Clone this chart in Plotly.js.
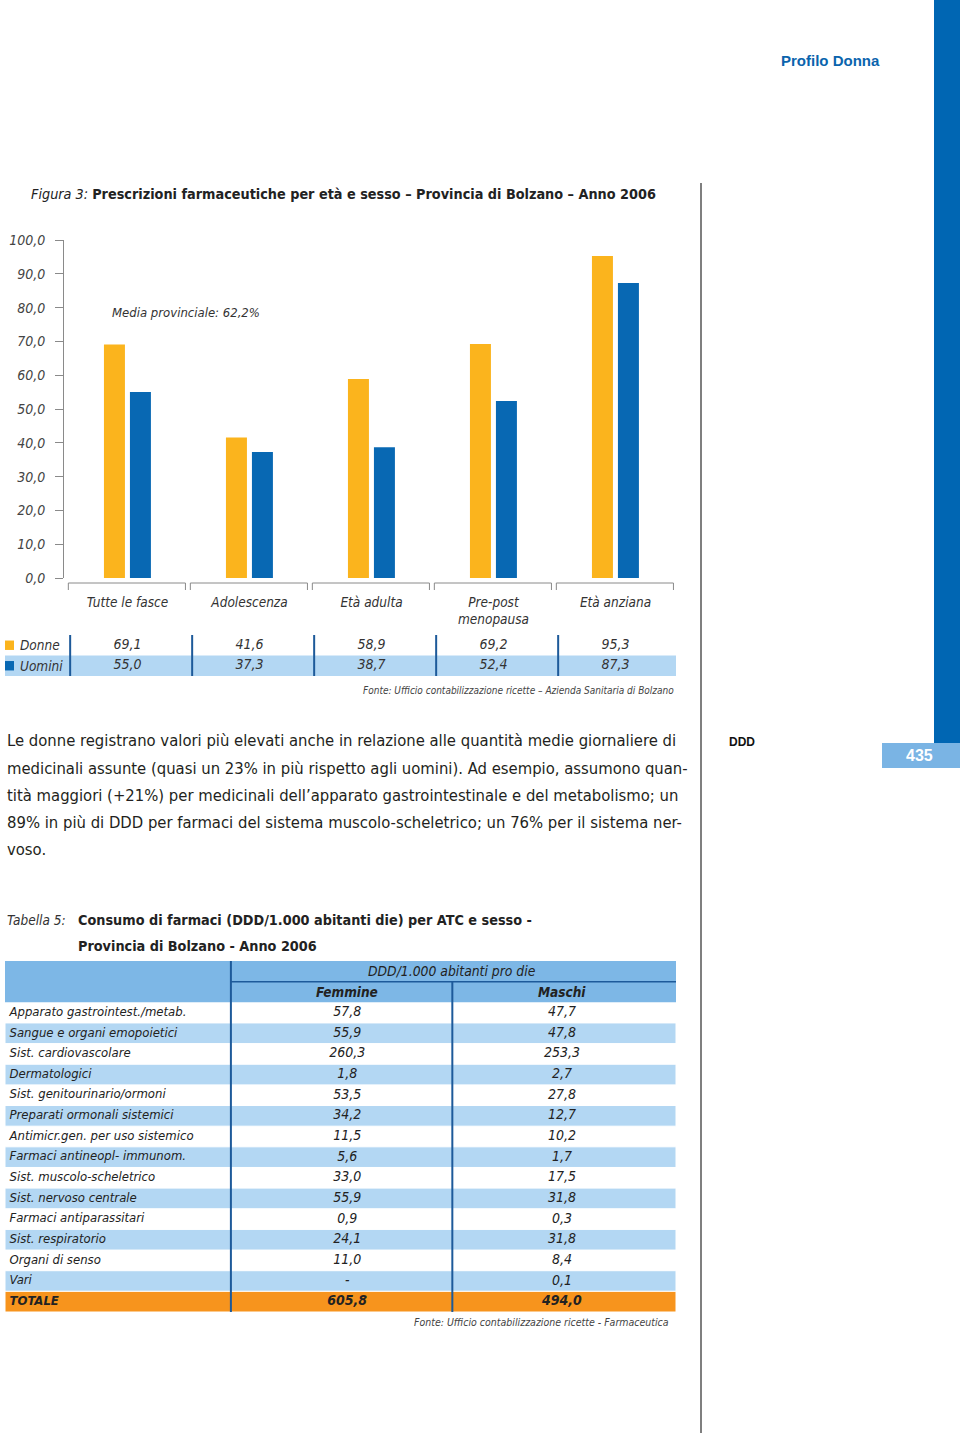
<!DOCTYPE html>
<html><head><meta charset="utf-8">
<script src="https://cdn.plot.ly/plotly-3.0.1.min.js"></script>
<style>body{margin:0;background:#fff}#chart{width:960px;height:1433px}</style>
</head><body><div id="chart"></div>
<script>
// ---------- data ----------
const categories = ['Tutte le fasce','Adolescenza','Età adulta','Pre-post<br>menopausa','Età anziana'];
const donne  = [69.1, 41.6, 58.9, 69.2, 95.3];
const uomini = [55.0, 37.3, 38.7, 52.4, 87.3];
const yTickVals = [0,10,20,30,40,50,60,70,80,90,100];
const atcLabels = ['Apparato gastrointest./metab.','Sangue e organi emopoietici','Sist. cardiovascolare','Dermatologici',
  'Sist. genitourinario/ormoni','Preparati ormonali sistemici','Antimicr.gen. per uso sistemico','Farmaci antineopl- immunom.',
  'Sist. muscolo-scheletrico','Sist. nervoso centrale','Farmaci antiparassitari','Sist. respiratorio','Organi di senso','Vari','TOTALE'];
const femmine = [57.8, 55.9, 260.3, 1.8, 53.5, 34.2, 11.5, 5.6, 33.0, 55.9, 0.9, 24.1, 11.0, null, 605.8];
const maschi  = [47.7, 47.8, 253.3, 2.7, 27.8, 12.7, 10.2, 1.7, 17.5, 31.8, 0.3, 31.8, 8.4, 0.1, 494.0];
const paragraph = [
 'Le donne registrano valori più elevati anche in relazione alle quantità medie giornaliere di',
 'medicinali assunte (quasi un 23% in più rispetto agli uomini). Ad esempio, assumono quan-',
 'tità maggiori (+21%) per medicinali dell’apparato gastrointestinale e del metabolismo; un',
 '89% in più di DDD per farmaci del sistema muscolo-scheletrico; un 76% per il sistema ner-',
 'voso.'];

// ---------- helpers ----------
const W=960, H=1433;
const px = x => x/W, py = y => 1 - y/H;
const fmt = v => (v===null ? '-' : v.toFixed(1).replace('.', ','));
const NARROW = '"Liberation Sans Narrow", "DejaVu Sans Condensed", "Roboto Condensed", "Liberation Sans", sans-serif';
const WIDE = '"Liberation Sans", Arial, sans-serif';
const YEL='#fbb41d', BLU='#0868b3', LBLU='#b3d7f3', MBLU='#7db7e6', ORG='#f7941d', DBLU='#1d5a9a';
const nRows = atcLabels.length;
const idx = atcLabels.map((_, i) => i + 2.5);

// ---------- traces ----------
const traces = [
 {type:'bar', x:categories, y:donne, marker:{color:YEL}, width:0.172, offset:-0.193, hoverinfo:'skip'},
 {type:'bar', x:categories, y:uomini, marker:{color:BLU}, width:0.172, offset:0.02, hoverinfo:'skip'},
 // chart data table
 {type:'scatter', mode:'text', x:categories, y:categories.map(()=>0.5), yaxis:'y2', text:donne.map(fmt),
  textfont:{family:NARROW, size:14, style:'italic', color:'#333'}, hoverinfo:'skip'},
 {type:'scatter', mode:'text', x:categories, y:categories.map(()=>1.5), yaxis:'y2', text:uomini.map(fmt),
  textfont:{family:NARROW, size:14, style:'italic', color:'#333'}, hoverinfo:'skip'},
 // table 5
 {type:'scatter', mode:'text', x:atcLabels.map(()=>0.02), y:idx, xaxis:'x3', yaxis:'y3', textposition:'middle right',
  text:atcLabels.map((t,i)=> i===nRows-1 ? '<b>'+t+'</b>' : t),
  textfont:{family:NARROW, size:13, style:'italic', color:'#222'}, hoverinfo:'skip'},
 {type:'scatter', mode:'text', x:femmine.map(()=>1.53), y:idx, xaxis:'x3', yaxis:'y3',
  text:femmine.map((v,i)=> i===nRows-1 ? '<b>'+fmt(v)+'</b>' : fmt(v)),
  textfont:{family:NARROW, size:14, style:'italic', color:'#222'}, hoverinfo:'skip'},
 {type:'scatter', mode:'text', x:maschi.map(()=>2.49), y:idx, xaxis:'x3', yaxis:'y3',
  text:maschi.map((v,i)=> i===nRows-1 ? '<b>'+fmt(v)+'</b>' : fmt(v)),
  textfont:{family:NARROW, size:14, style:'italic', color:'#222'}, hoverinfo:'skip'}
];

// ---------- shapes ----------
const shapes = [];
// page decorations
shapes.push({type:'rect', xref:'paper', yref:'paper', x0:px(934), x1:px(960), y0:py(0), y1:py(743), fillcolor:'#0066b3', line:{width:0}});
shapes.push({type:'rect', xref:'paper', yref:'paper', x0:px(882), x1:px(960), y0:py(743), y1:py(768), fillcolor:'#7ab4e4', line:{width:0}});
shapes.push({type:'line', xref:'paper', yref:'paper', x0:px(701), x1:px(701), y0:py(183), y1:py(1433), line:{color:'#555', width:1.5}});
// category brackets
categories.forEach((c,i)=>{
  shapes.push({type:'path', xref:'x', yref:'paper',
    path:`M ${i-0.485} ${py(590)} L ${i-0.485} ${py(583)} L ${i+0.475} ${py(583)} L ${i+0.475} ${py(590)}`,
    line:{color:'#8a8a8a', width:1}});
});
// chart table
shapes.push({type:'rect', xref:'paper', yref:'y2', x0:px(5), x1:px(676), y0:1, y1:2, fillcolor:LBLU, line:{width:0}, layer:'below'});
categories.forEach((c,i)=>{
  shapes.push({type:'line', xref:'x', yref:'y2', x0:i-0.47, x1:i-0.47, y0:0, y1:2, line:{color:DBLU, width:2}});
});
shapes.push({type:'rect', xref:'paper', yref:'y2', x0:px(5), x1:px(14), y0:0.27, y1:0.73, fillcolor:YEL, line:{width:0}});
shapes.push({type:'rect', xref:'paper', yref:'y2', x0:px(5), x1:px(14), y0:1.27, y1:1.73, fillcolor:BLU, line:{width:0}});
// table 5
shapes.push({type:'rect', xref:'x3', yref:'y3', x0:0, x1:3, y0:0, y1:2, fillcolor:MBLU, line:{width:0}, layer:'below'});
atcLabels.forEach((t,i)=>{
  const fill = i===nRows-1 ? ORG : (i%2===1 ? LBLU : null);
  if(fill) shapes.push({type:'rect', xref:'x3', yref:'y3', x0:0, x1:3, y0:i+2, y1:i+3, fillcolor:fill, line:{color:'#fff', width:1}, layer:'below'});
});
shapes.push({type:'line', xref:'x3', yref:'y3', x0:1.01, x1:3, y0:1, y1:1, line:{color:DBLU, width:1.5}});
shapes.push({type:'line', xref:'x3', yref:'y3', x0:1.01, x1:1.01, y0:0, y1:nRows+2, line:{color:DBLU, width:2}});
shapes.push({type:'line', xref:'x3', yref:'y3', x0:2.0, x1:2.0, y0:1, y1:nRows+2, line:{color:DBLU, width:2}});

// ---------- annotations ----------
const ann = [];
const A = (o) => ann.push(Object.assign({showarrow:false, xref:'paper', yref:'paper'}, o));
A({x:px(882), y:py(60), xanchor:'right', yanchor:'middle', text:'<b>Profilo Donna</b>', font:{family:WIDE, size:15, color:'#0a64ad'}});
A({x:px(919), y:py(755), xanchor:'center', yanchor:'middle', text:'<b>435</b>', font:{family:WIDE, size:16, color:'#fff'}});
A({x:px(727), y:py(742), xanchor:'left', yanchor:'middle', text:'<b>DDD</b>', font:{family:WIDE, size:12, color:'#111'}});
A({x:px(29), y:py(194), xanchor:'left', yanchor:'middle',
   text:'<i>Figura 3:</i> <b>Prescrizioni farmaceutiche per età e sesso – Provincia di Bolzano – Anno 2006</b>',
   font:{family:NARROW, size:14.3, color:'#222'}});
A({x:px(110), y:py(313), xanchor:'left', yanchor:'middle', text:'<i>Media provinciale: 62,2%</i>', font:{family:NARROW, size:13, color:'#333'}});
A({x:px(18), y:0.5, yref:'y2', xanchor:'left', yanchor:'middle', text:'<i>Donne</i>', font:{family:NARROW, size:13.5, color:'#333'}});
A({x:px(18), y:1.5, yref:'y2', xanchor:'left', yanchor:'middle', text:'<i>Uomini</i>', font:{family:NARROW, size:13.5, color:'#333'}});
A({x:px(676), y:py(690), xanchor:'right', yanchor:'middle', text:'<i>Fonte: Ufficio contabilizzazione ricette – Azienda Sanitaria di Bolzano</i>', font:{family:NARROW, size:10, color:'#444'}});
paragraph.forEach((l,i)=>{
  A({x:px(5), y:py(741 + i*27.2), xanchor:'left', yanchor:'middle', text:l, font:{family:NARROW, size:16.5, color:'#231f20'}});
});
A({x:px(5), y:py(920), xanchor:'left', yanchor:'middle', text:'<i>Tabella 5:</i>', font:{family:NARROW, size:13.5, color:'#333'}});
A({x:px(76), y:py(920), xanchor:'left', yanchor:'middle', text:'<b>Consumo di farmaci (DDD/1.000 abitanti die) per ATC e sesso -</b>', font:{family:NARROW, size:14.3, color:'#222'}});
A({x:px(76), y:py(946), xanchor:'left', yanchor:'middle', text:'<b>Provincia di Bolzano - Anno 2006</b>', font:{family:NARROW, size:14.3, color:'#222'}});
A({xref:'x3', yref:'y3', x:2, y:0.5, xanchor:'center', yanchor:'middle', text:'<i>DDD/1.000 abitanti pro die</i>', font:{family:NARROW, size:13.8, color:'#222'}});
A({xref:'x3', yref:'y3', x:1.53, y:1.5, xanchor:'center', yanchor:'middle', text:'<b><i>Femmine</i></b>', font:{family:NARROW, size:13.5, color:'#222'}});
A({xref:'x3', yref:'y3', x:2.49, y:1.5, xanchor:'center', yanchor:'middle', text:'<b><i>Maschi</i></b>', font:{family:NARROW, size:13.5, color:'#222'}});
A({x:px(671), y:py(1322), xanchor:'right', yanchor:'middle', text:'<i>Fonte: Ufficio contabilizzazione ricette - Farmaceutica</i>', font:{family:NARROW, size:10.5, color:'#444'}});

// ---------- layout ----------
const layout = {
  width:W, height:H, margin:{l:0,r:0,t:0,b:0}, paper_bgcolor:'#fff', plot_bgcolor:'rgba(0,0,0,0)',
  showlegend:false, barmode:'group',
  xaxis:{domain:[px(66.5), px(676.5)], range:[-0.5,4.5], type:'category', anchor:'y',
    showline:false, showgrid:false, zeroline:false, ticks:'', ticklabelstandoff:14,
    tickfont:{family:NARROW, size:13.5, style:'italic', color:'#333'}},
  yaxis:{domain:[py(578), py(240)], range:[0,100], anchor:'free', position:px(63),
    tickvals:yTickVals, ticktext:yTickVals.map(fmt), ticks:'outside', ticklen:8, tickcolor:'#8a8a8a',
    showline:true, linecolor:'#8a8a8a', showgrid:false, zeroline:false, ticklabelstandoff:7,
    tickfont:{family:NARROW, size:14, style:'italic', color:'#444'}},
  yaxis2:{domain:[py(676), py(635)], range:[2,0], anchor:'x', visible:false},
  xaxis3:{domain:[px(5), px(676)], range:[0,3], anchor:'y3', visible:false},
  yaxis3:{domain:[py(1312), py(961)], range:[nRows+2,0], anchor:'x3', visible:false},
  shapes:shapes, annotations:ann
};
Plotly.newPlot('chart', traces, layout, {displayModeBar:false, staticPlot:true});
</script></body></html>
